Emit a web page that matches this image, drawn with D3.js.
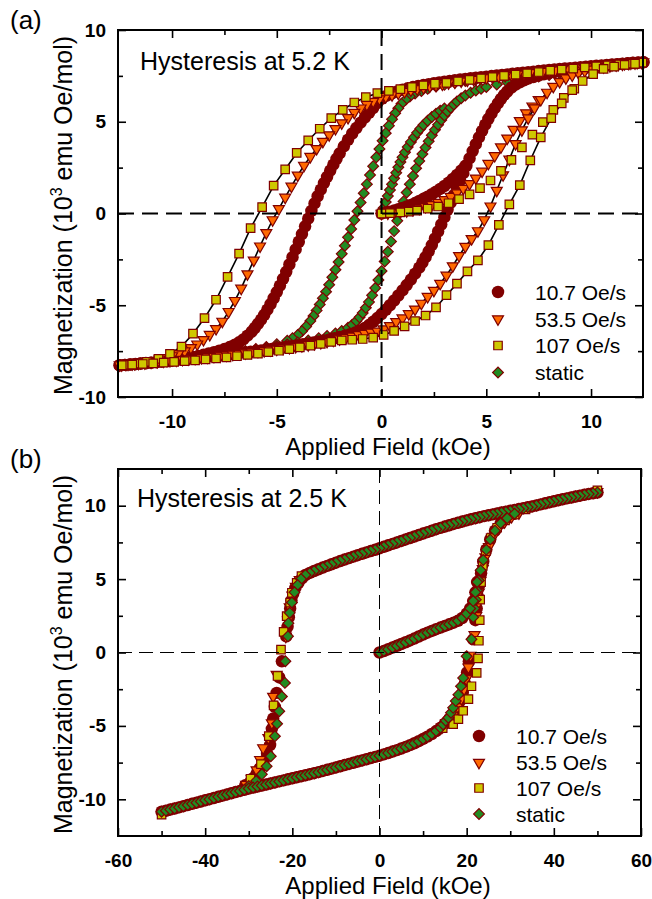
<!DOCTYPE html>
<html><head><meta charset="utf-8">
<script src="https://cdn.jsdelivr.net/npm/d3@7"></script>
<style>
body{margin:0;background:#fff;}
svg{display:block;}
</style></head><body>
<svg id="c" width="652" height="899"></svg>
<script>
// ---------- labels / ticks ----------
const seriesNames = ["10.7 Oe/s", "53.5 Oe/s", "107 Oe/s", "static"];
const titleA = "Hysteresis at 5.2 K";
const titleB = "Hysteresis at 2.5 K";
const xLabel = "Applied Field (kOe)";
const xTicksA = [-10, -5, 0, 5, 10], xMinorA = [-7.5, -2.5, 2.5, 7.5];
const yTicksA = [-10, -5, 0, 5, 10], yMinorA = [-7.5, -2.5, 2.5, 7.5];
const xTicksB = [-60, -40, -20, 0, 20, 40, 60], xMinorB = [-50, -30, -10, 10, 30, 50];
const yTicksB = [-10, -5, 0, 5, 10], yMinorB = [-7.5, -2.5, 2.5, 7.5];

// ---------- panel (a): 5.2 K ----------
const a_circVirgin = [[0,0],[0.2,0.05],[0.4,0.1],[0.6,0.16],[0.8,0.23],[1,0.3],[1.2,0.38],[1.4,0.47],[1.6,0.57],[1.8,0.68],[2,0.8],[2.2,0.92],[2.4,1.05],[2.6,1.19],[2.8,1.34],[3,1.5],[3.2,1.68],[3.4,1.88],[3.6,2.1],[3.8,2.34],[4,2.6]];
const a_circDesc = [[12.5,8.25],[12.25,8.23],[12,8.21],[11.75,8.19],[11.5,8.16],[11.25,8.14],[11,8.12],[10.75,8.1],[10.5,8.07],[10.25,8.05],[10,8.02],[9.75,8],[9.5,7.97],[9.25,7.95],[9,7.92],[8.75,7.9],[8.5,7.87],[8.25,7.85],[8,7.82],[7.75,7.79],[7.5,7.76],[7.25,7.73],[7,7.7],[6.75,7.67],[6.5,7.64],[6.25,7.61],[6,7.58],[5.75,7.55],[5.5,7.52],[5.25,7.49],[5,7.46],[4.75,7.43],[4.5,7.4],[4.25,7.37],[4,7.33],[3.75,7.3],[3.5,7.26],[3.25,7.22],[3,7.18],[2.75,7.14],[2.5,7.1],[2.25,7.05],[2,7],[1.75,6.95],[1.5,6.89],[1.25,6.82],[1,6.74],[0.75,6.65],[0.5,6.55],[0.25,6.42],[0,6.25],[-0.2,6.02],[-0.4,5.75],[-0.6,5.48],[-0.8,5.22],[-1,4.95],[-1.2,4.66],[-1.4,4.36],[-1.6,4.02],[-1.8,3.66],[-2,3.28],[-2.15,2.98],[-2.3,2.66],[-2.45,2.34],[-2.6,2],[-2.75,1.66],[-2.9,1.3],[-3.05,0.94],[-3.2,0.55],[-3.35,0.14],[-3.5,-0.28],[-3.65,-0.7],[-3.8,-1.12],[-3.95,-1.54],[-4.1,-1.96],[-4.25,-2.38],[-4.4,-2.78],[-4.55,-3.18],[-4.7,-3.56],[-4.85,-3.93],[-5,-4.28],[-5.15,-4.62],[-5.3,-4.94],[-5.45,-5.24],[-5.6,-5.52],[-5.75,-5.78],[-5.9,-6.02],[-6.05,-6.24],[-6.2,-6.44],[-6.4,-6.66],[-6.6,-6.86],[-6.8,-7.02],[-7,-7.15],[-7.25,-7.28],[-7.5,-7.39],[-7.75,-7.48],[-8,-7.56],[-8.25,-7.63],[-8.5,-7.7],[-8.75,-7.76],[-9,-7.82],[-9.25,-7.87],[-9.5,-7.92],[-9.75,-7.96],[-10,-8],[-10.25,-8.04],[-10.5,-8.07],[-10.75,-8.1],[-11,-8.13],[-11.25,-8.16],[-11.5,-8.18],[-11.75,-8.21],[-12,-8.23],[-12.25,-8.25],[-12.5,-8.27]];
const a_circAsc = [[-12.5,-8.27],[-12.25,-8.25],[-12,-8.23],[-11.75,-8.2],[-11.5,-8.18],[-11.25,-8.15],[-11,-8.13],[-10.75,-8.1],[-10.5,-8.07],[-10.25,-8.04],[-10,-8.01],[-9.75,-7.98],[-9.5,-7.95],[-9.25,-7.92],[-9,-7.89],[-8.75,-7.86],[-8.5,-7.83],[-8.25,-7.8],[-8,-7.77],[-7.75,-7.74],[-7.5,-7.71],[-7.25,-7.67],[-7,-7.64],[-6.75,-7.6],[-6.5,-7.57],[-6.25,-7.53],[-6,-7.5],[-5.75,-7.46],[-5.5,-7.42],[-5.25,-7.38],[-5,-7.34],[-4.75,-7.3],[-4.5,-7.26],[-4.25,-7.22],[-4,-7.18],[-3.75,-7.13],[-3.5,-7.08],[-3.25,-7.03],[-3,-6.98],[-2.75,-6.92],[-2.5,-6.86],[-2.25,-6.8],[-2,-6.73],[-1.75,-6.66],[-1.5,-6.58],[-1.25,-6.48],[-1,-6.36],[-0.8,-6.24],[-0.6,-6.08],[-0.4,-5.9],[-0.2,-5.7],[0,-5.48],[0.2,-5.25],[0.4,-5],[0.6,-4.74],[0.8,-4.47],[1,-4.19],[1.2,-3.9],[1.4,-3.6],[1.6,-3.28],[1.8,-2.95],[1.95,-2.68],[2.1,-2.38],[2.25,-2.06],[2.4,-1.72],[2.55,-1.36],[2.7,-0.98],[2.85,-0.6],[3,-0.2],[3.15,0.2],[3.3,0.6],[3.45,1],[3.6,1.4],[3.75,1.8],[3.9,2.2],[4.05,2.6],[4.2,3],[4.35,3.4],[4.5,3.78],[4.65,4.15],[4.8,4.5],[4.95,4.84],[5.1,5.16],[5.25,5.46],[5.4,5.74],[5.55,6],[5.7,6.24],[5.85,6.46],[6,6.65],[6.2,6.86],[6.4,7.02],[6.6,7.15],[6.8,7.26],[7,7.35],[7.25,7.44],[7.5,7.52],[7.75,7.59],[8,7.65],[8.25,7.7],[8.5,7.75],[8.75,7.8],[9,7.84],[9.25,7.88],[9.5,7.92],[9.75,7.95],[10,7.98],[10.25,8.01],[10.5,8.04],[10.75,8.07],[11,8.1],[11.25,8.12],[11.5,8.15],[11.75,8.17],[12,8.2],[12.25,8.22],[12.5,8.24]];

const a_triVirgin = [[0,0],[0.3,0.02],[0.6,0.05],[0.9,0.09],[1.2,0.14],[1.5,0.2],[1.8,0.28],[2.1,0.37],[2.4,0.48],[2.7,0.6],[3,0.75],[3.3,0.92],[3.6,1.12],[3.9,1.36],[4.2,1.62],[4.5,1.92],[4.8,2.3],[5.1,2.72],[5.4,3.15],[5.7,3.62],[6,4.1],[6.3,4.58],[6.6,5.05],[6.9,5.48],[7.2,5.85],[7.5,6.2]];
const a_triDesc = [[12.5,8.25],[12.2,8.22],[11.9,8.19],[11.6,8.16],[11.3,8.13],[11,8.1],[10.7,8.07],[10.4,8.04],[10.1,8.01],[9.8,7.98],[9.5,7.95],[9.2,7.92],[8.9,7.89],[8.6,7.85],[8.3,7.82],[8,7.78],[7.7,7.74],[7.4,7.71],[7.1,7.67],[6.8,7.63],[6.5,7.59],[6.2,7.55],[5.9,7.51],[5.6,7.47],[5.3,7.43],[5,7.39],[4.7,7.35],[4.4,7.3],[4.1,7.26],[3.8,7.21],[3.5,7.16],[3.2,7.11],[2.9,7.05],[2.6,6.99],[2.3,6.93],[2,6.86],[1.7,6.79],[1.4,6.72],[1.1,6.64],[0.8,6.55],[0.5,6.46],[0.2,6.36],[-0.1,6.24],[-0.4,6.1],[-0.7,5.93],[-1,5.74],[-1.3,5.5],[-1.6,5.22],[-1.9,4.93],[-2.2,4.62],[-2.5,4.28],[-2.8,3.92],[-3.1,3.53],[-3.4,3.1],[-3.7,2.62],[-4,2.08],[-4.3,1.48],[-4.6,0.88],[-4.9,0.26],[-5.2,-0.35],[-5.5,-1.05],[-5.8,-1.78],[-6.1,-2.55],[-6.4,-3.3],[-6.7,-4.08],[-7,-4.75],[-7.3,-5.35],[-7.6,-5.88],[-7.9,-6.28],[-8.2,-6.6],[-8.5,-6.88],[-8.8,-7.12],[-9.1,-7.32],[-9.4,-7.5],[-9.7,-7.64],[-10,-7.76],[-10.3,-7.86],[-10.6,-7.95],[-10.9,-8.02],[-11.2,-8.08],[-11.5,-8.13],[-11.8,-8.18],[-12.1,-8.22],[-12.4,-8.26]];
const a_triAsc = [[-12.5,-8.26],[-12.2,-8.23],[-11.9,-8.2],[-11.6,-8.17],[-11.3,-8.14],[-11,-8.11],[-10.7,-8.08],[-10.4,-8.05],[-10.1,-8.02],[-9.8,-7.99],[-9.5,-7.96],[-9.2,-7.93],[-8.9,-7.9],[-8.6,-7.86],[-8.3,-7.83],[-8,-7.79],[-7.7,-7.76],[-7.4,-7.72],[-7.1,-7.68],[-6.8,-7.64],[-6.5,-7.6],[-6.2,-7.56],[-5.9,-7.52],[-5.6,-7.48],[-5.3,-7.44],[-5,-7.4],[-4.7,-7.35],[-4.4,-7.31],[-4.1,-7.26],[-3.8,-7.21],[-3.5,-7.16],[-3.2,-7.1],[-2.9,-7.04],[-2.6,-6.98],[-2.3,-6.91],[-2,-6.84],[-1.7,-6.77],[-1.4,-6.69],[-1.1,-6.61],[-0.8,-6.54],[-0.5,-6.48],[-0.2,-6.42],[0.1,-6.3],[0.4,-6.12],[0.7,-5.9],[1,-5.7],[1.3,-5.47],[1.6,-5.22],[1.9,-4.9],[2.2,-4.53],[2.5,-4.2],[2.8,-3.82],[3.1,-3.37],[3.4,-2.86],[3.7,-2.3],[4,-1.8],[4.3,-1.38],[4.6,-0.95],[4.9,-0.35],[5.2,0.4],[5.5,1.25],[5.8,2.1],[6.1,2.95],[6.4,3.8],[6.7,4.55],[7,5.2],[7.3,5.75],[7.6,6.2],[7.9,6.6],[8.2,6.92],[8.5,7.18],[8.8,7.38],[9.1,7.54],[9.4,7.67],[9.7,7.77],[10,7.86],[10.3,7.93],[10.6,7.99],[10.9,8.04],[11.2,8.09],[11.5,8.13],[11.8,8.17],[12.1,8.2],[12.4,8.23]];

const a_sqVirgin = [[0,0],[0.4,0.02],[0.9,0.06],[1.3,0.1],[1.7,0.16],[2.2,0.26],[2.7,0.38],[3.2,0.56],[3.7,0.78],[4.2,1.04],[4.7,1.38],[5.2,1.8],[5.7,2.32],[6.2,2.92],[6.7,3.6],[7.2,4.3],[7.7,4.98],[8.2,5.65],[8.7,6.3],[9.2,6.8]];
const a_sqDesc = [[12.45,8.22],[11.9,8.17],[11.35,8.12],[10.8,8.07],[10.25,8.02],[9.7,7.96],[9.15,7.9],[8.6,7.84],[8.05,7.78],[7.5,7.71],[6.95,7.64],[6.4,7.57],[5.85,7.5],[5.3,7.43],[4.75,7.36],[4.2,7.28],[3.65,7.2],[3.1,7.12],[2.55,7.07],[2,6.98],[1.45,6.88],[0.9,6.78],[0.35,6.68],[-0.2,6.56],[-0.75,6.34],[-1.3,6.05],[-1.85,5.65],[-2.4,5.2],[-2.95,4.62],[-3.5,3.98],[-4.05,3.3],[-4.6,2.4],[-5.15,1.52],[-5.7,0.35],[-6.25,-0.8],[-6.8,-2.19],[-7.35,-3.45],[-7.9,-4.7],[-8.45,-5.7],[-9,-6.55],[-9.55,-7.25],[-10.1,-7.65],[-10.65,-7.92],[-11.2,-8.08],[-11.75,-8.18],[-12.3,-8.25]];
const a_sqAsc = [[-12.4,-8.27],[-11.9,-8.24],[-11.4,-8.2],[-10.9,-8.17],[-10.4,-8.13],[-9.9,-8.09],[-9.4,-8.05],[-8.9,-8],[-8.4,-7.95],[-7.9,-7.9],[-7.4,-7.84],[-6.9,-7.78],[-6.4,-7.71],[-5.9,-7.64],[-5.4,-7.56],[-4.9,-7.48],[-4.4,-7.39],[-3.9,-7.3],[-3.4,-7.2],[-2.9,-7.1],[-2.4,-7],[-1.9,-6.92],[-1.4,-6.88],[-0.9,-6.84],[-0.4,-6.76],[0.1,-6.62],[0.6,-6.4],[1.1,-6.15],[1.6,-5.86],[2.1,-5.56],[2.6,-5.12],[3.1,-4.45],[3.6,-3.82],[4.1,-3.15],[4.6,-2.55],[5.1,-1.72],[5.6,-0.62],[6.1,0.5],[6.6,1.55],[7.1,2.9],[7.6,4.15],[8.1,5.2],[8.6,6],[9.1,6.72],[9.6,7.22],[10.1,7.6],[10.6,7.88],[11.1,8],[11.6,8.1],[12.1,8.16]];

const a_statVirgin = [[0,0],[0.1,0.3],[0.2,0.62],[0.3,0.95],[0.4,1.28],[0.5,1.6],[0.6,1.92],[0.7,2.22],[0.8,2.52],[0.9,2.8],[1,3.06],[1.12,3.34],[1.25,3.62],[1.4,3.9],[1.55,4.16],[1.7,4.4],[1.85,4.62],[2,4.82],[2.2,5.05],[2.4,5.26],[2.6,5.44],[2.8,5.6],[3,5.72]];
const a_statDesc = [[10,7.97],[9.5,7.92],[9,7.87],[8.5,7.82],[8,7.77],[7.5,7.71],[7,7.65],[6.5,7.59],[6,7.52],[5.5,7.45],[5,7.38],[4.5,7.3],[4,7.22],[3.5,7.12],[3,7.02],[2.6,6.92],[2.2,6.8],[1.9,6.68],[1.6,6.54],[1.35,6.38],[1.15,6.2],[0.95,5.98],[0.8,5.74],[0.65,5.46],[0.5,5.14],[0.35,4.78],[0.2,4.38],[0.05,3.96],[-0.1,3.52],[-0.25,3.06],[-0.4,2.58],[-0.55,2.1],[-0.7,1.6],[-0.85,1.1],[-1,0.6],[-1.15,0.12],[-1.3,-0.36],[-1.45,-0.84],[-1.6,-1.3],[-1.75,-1.76],[-1.9,-2.2],[-2.05,-2.64],[-2.2,-3.06],[-2.35,-3.48],[-2.5,-3.88],[-2.65,-4.26],[-2.8,-4.62],[-2.95,-4.96],[-3.1,-5.28],[-3.25,-5.58],[-3.4,-5.86],[-3.6,-6.16],[-3.8,-6.42],[-4,-6.62],[-4.25,-6.8],[-4.5,-6.93],[-5,-7.12],[-5.5,-7.27],[-6,-7.39],[-6.5,-7.5],[-7,-7.6],[-7.5,-7.69],[-8,-7.77],[-8.5,-7.85],[-9,-7.92],[-9.5,-7.98],[-10,-8.04]];
const a_statAsc = [[-10,-7.95],[-9.5,-7.9],[-9,-7.84],[-8.5,-7.78],[-8,-7.72],[-7.5,-7.65],[-7,-7.58],[-6.5,-7.5],[-6,-7.42],[-5.5,-7.33],[-5,-7.24],[-4.5,-7.14],[-4,-7.03],[-3.5,-6.92],[-3,-6.8],[-2.6,-6.68],[-2.2,-6.54],[-1.9,-6.4],[-1.6,-6.22],[-1.4,-6.06],[-1.2,-5.86],[-1.05,-5.66],[-0.9,-5.42],[-0.75,-5.14],[-0.6,-4.82],[-0.45,-4.46],[-0.3,-4.06],[-0.15,-3.62],[0,-3.14],[0.15,-2.62],[0.3,-2.08],[0.45,-1.52],[0.6,-0.96],[0.75,-0.4],[0.9,0.14],[1.05,0.66],[1.2,1.14],[1.35,1.6],[1.5,2.04],[1.65,2.46],[1.8,2.86],[1.95,3.24],[2.1,3.6],[2.25,3.94],[2.4,4.26],[2.55,4.56],[2.7,4.84],[2.85,5.1],[3,5.34],[3.15,5.56],[3.3,5.76],[3.45,5.94],[3.6,6.1],[3.8,6.28],[4,6.43],[4.25,6.58],[4.5,6.7],[4.75,6.8],[5,6.89],[5.5,7.03],[6,7.15],[6.5,7.26],[7,7.36],[7.5,7.46],[8,7.55],[8.5,7.65],[9,7.74],[9.5,7.83],[10,7.91]];

// ---------- panel (b): 2.5 K ----------
const b_upper = [[50,10.9],[49,10.85],[48,10.8],[47,10.74],[46,10.68],[45,10.62],[44,10.56],[43,10.5],[42,10.44],[41,10.37],[40,10.3],[39,10.23],[38,10.16],[37,10.09],[36,10.02],[35,9.95],[34,9.89],[33,9.83],[32,9.77],[31,9.71],[30,9.65],[29,9.59],[28,9.53],[27,9.47],[26,9.41],[25,9.35],[24,9.29],[23,9.22],[22,9.15],[21,9.08],[20,9],[19,8.92],[18,8.84],[17,8.76],[16,8.67],[15,8.58],[14,8.49],[13,8.4],[12,8.3],[11,8.2],[10,8.1],[9,8],[8,7.9],[7,7.8],[6,7.7],[5,7.6],[4,7.5],[3,7.4],[2,7.3],[1,7.2],[0,7.1],[-1,7],[-2,6.91],[-3,6.82],[-4,6.72],[-5,6.63],[-6,6.53],[-7,6.43],[-8,6.33],[-9,6.23],[-10,6.12],[-11,6.01],[-12,5.9],[-13,5.79],[-14,5.67],[-15,5.55],[-16,5.42],[-17,5.28]];
const b_lower = [[-50,-10.85],[-49,-10.78],[-48,-10.7],[-47,-10.63],[-46,-10.55],[-45,-10.47],[-44,-10.39],[-43,-10.31],[-42,-10.23],[-41,-10.15],[-40,-10.07],[-39,-9.99],[-38,-9.91],[-37,-9.83],[-36,-9.75],[-35,-9.67],[-34,-9.59],[-33,-9.51],[-32,-9.43],[-31,-9.35],[-30,-9.27],[-29,-9.2],[-28,-9.13],[-27,-9.06],[-26,-8.99],[-25,-8.92],[-24,-8.85],[-23,-8.78],[-22,-8.71],[-21,-8.64],[-20,-8.57],[-19,-8.5],[-18,-8.43],[-17,-8.36],[-16,-8.29],[-15,-8.22],[-14,-8.15],[-13,-8.07],[-12,-7.99],[-11,-7.91],[-10,-7.83],[-9,-7.75],[-8,-7.67],[-7,-7.59],[-6,-7.51],[-5,-7.43],[-4,-7.35],[-3,-7.27],[-2,-7.19],[-1,-7.11],[0,-7.03],[1,-6.94],[2,-6.85],[3,-6.75],[4,-6.65],[5,-6.54],[6,-6.43],[7,-6.31],[8,-6.18],[9,-6.04],[10,-5.89],[11,-5.73],[12,-5.55],[13,-5.35],[14,-5.13]];
const b_virgin = [[0,0],[1,0.1],[2,0.22],[3,0.34],[4,0.46],[5,0.58],[6,0.7],[7,0.82],[8,0.95],[9,1.09],[10,1.22],[11,1.35],[12,1.47],[13,1.59],[14,1.7],[15,1.81],[16,1.92],[17,2.03],[18,2.16],[19,2.35],[20,2.65],[20.8,3],[21.5,3.5],[22,4.1],[22.4,4.8]];
const b_circDesc = [[-17.8,5.05],[-18.6,4.75],[-19.3,4.4],[-19.8,4],[-20.2,3.55],[-20.5,3],[-20.8,2.4],[-21.1,1.75],[-21.4,1.1],[-22.4,-0.6],[-23,-1.7],[-23.6,-2.75],[-24,-3.7],[-24.4,-4.5],[-24.7,-5.2],[-25.1,-6.3],[-25.8,-6.9],[-26.6,-7.4],[-27.5,-7.9],[-28.2,-8.25],[-28.9,-8.55],[-29.7,-8.85],[-30.8,-9.05]];
const b_circAsc = [[15,-4.85],[16,-4.55],[17,-4.2],[17.8,-3.8],[18.5,-3.3],[19.1,-2.75],[19.6,-2.1],[20.1,-1.35],[20.5,-0.6],[21.5,0.9],[22,2.2],[22.3,3],[22.6,3.8],[22.9,4.6],[23.3,5.4],[23.8,6.2],[24.5,7],[25.4,7.7],[26.5,8.3],[27.8,8.8],[29.3,9.15],[31,9.45]];
const b_triDesc = [[-18.3,4.95],[-19.2,4.5],[-20,3.9],[-20.6,3.1],[-21,2.2],[-21.5,1.1],[-23.6,-1.5],[-24.4,-3],[-24.7,-4.8],[-25.5,-5.8],[-26.7,-6.5],[-27.4,-7.3],[-28.2,-8],[-29.3,-8.6],[-30.6,-9]];
const b_triAsc = [[14.3,-5.1],[15.3,-4.8],[16.3,-4.5],[17.2,-4.15],[18,-3.7],[18.8,-3.15],[19.4,-2.5],[19.9,-1.8],[20.4,-1],[20.9,-0.2],[21.8,1.2],[22.2,2.5],[22.5,3.3],[22.8,4.1],[23.2,4.9],[23.7,5.7],[24.3,6.5],[25.1,7.2],[26.1,7.9],[27.3,8.45],[28.7,8.9],[30.3,9.25],[32,9.5],[50,10.95]];
const b_sqDesc = [[50,11.05],[-17.9,5.2],[-19,4.75],[-20.1,4.07],[-20.5,3.4],[-21.3,2.48],[-22,1.4],[-22.6,0.2],[-23.4,-1.6],[-24.3,-3.6],[-25.4,-5.7],[-27.2,-7.6],[-29.6,-8.6],[-50,-11.05]];
const b_sqAsc = [[14.5,-5.15],[16.9,-4.88],[18.1,-4.54],[19.2,-3.97],[20.4,-3.17],[21.1,-2.3],[22.3,-1.39],[22.6,-0.4],[22.8,0.8],[23,2.2],[23.1,3.6],[23.3,4.8],[23.7,5.9],[24.4,6.9],[25.5,7.8],[27,8.5],[28.8,9],[31,9.4],[33.5,9.75]];
const b_statDesc = [[-18,5],[-18.8,4.6],[-19.5,4.1],[-20.1,3.4],[-20.6,2.7],[-20.9,2],[-21,1.1],[-21.6,-0.6],[-21.7,-2.07],[-22.4,-3],[-23,-4],[-23.5,-4.85],[-24,-5.7],[-24.95,-7.07],[-25.9,-7.75],[-27,-8.3],[-28.3,-8.75],[-30,-9.1]];
const b_statAsc = [[14.6,-4.9],[15.2,-4.65],[15.8,-4.45],[16.4,-4.1],[16.9,-3.77],[17.5,-3.3],[18.1,-2.87],[18.7,-2.3],[19.2,-1.73],[20,-0.25],[21.1,0.9],[21.5,2.4],[21.8,3],[22.1,3.6],[22.4,4.2],[22.8,4.9],[23.2,5.6],[23.8,6.3],[24.5,7],[25.4,7.7],[26.5,8.3],[27.8,8.8],[29.3,9.15],[31,9.45]];

// ---------- drawing ----------
const FONT = '"Liberation Sans", Arial, Helvetica, sans-serif';
const RED = "#800000";
const STY = {
  circle:  {sym: d3.symbolCircle,   size: 122, fill: RED,       stroke: "none", rot: 0},
  tri:     {sym: d3.symbolTriangle, size: 52,  fill: "#ff6a00", stroke: RED,    rot: 180},
  square:  {sym: d3.symbolSquare,   size: 72,  fill: "#cfc800", stroke: RED,    rot: 0},
  diamond: {sym: d3.symbolSquare,   size: 58,  fill: "#228b22", stroke: RED,    rot: 45}
};
const svg = d3.select("#c").style("font-family", FONT);

function marks(g, data, st, x, y) {
  const p = d3.symbol(st.sym, st.size)();
  g.append("g").selectAll("path").data(data).join("path")
    .attr("d", p)
    .attr("transform", d => `translate(${x(d[0])},${y(d[1])}) rotate(${st.rot})`)
    .attr("fill", st.fill).attr("stroke", st.stroke).attr("stroke-width", 1.2);
}

function panel(o) {
  const x = d3.scaleLinear().domain(o.xd).range([o.L, o.R]);
  const y = d3.scaleLinear().domain(o.yd).range([o.B, o.T]);
  const g = svg.append("g");

  // fit lines
  const line = d3.line().x(d => x(d[0])).y(d => y(d[1]));
  (o.lines || []).forEach(ln => g.append("path").attr("d", line(ln))
      .attr("fill", "none").attr("stroke", "#000").attr("stroke-width", 1.6));

  // markers
  o.series.forEach(s => s.data.forEach(arr => marks(g, arr, STY[s.type], x, y)));

  // zero lines
  g.append("line").attr("x1", x(0)).attr("x2", x(0)).attr("y1", o.T).attr("y2", o.B)
    .attr("stroke", "#000").attr("stroke-width", o.zw).attr("stroke-dasharray", o.dash);
  g.append("line").attr("x1", o.L).attr("x2", o.R).attr("y1", y(0)).attr("y2", y(0))
    .attr("stroke", "#000").attr("stroke-width", o.zw).attr("stroke-dasharray", o.dash);

  // axes
  const fmt = d => String(d);
  const style = sel => {
    sel.select(".domain").remove();
    sel.selectAll("line").attr("stroke", "#000").attr("stroke-width", 1.6);
    sel.attr("font-family", FONT).attr("font-size", 19).attr("font-weight", "bold");
  };
  const add = (ax, tr) => g.append("g").attr("transform", tr).call(ax).call(style);
  add(d3.axisBottom(x).tickValues(o.xt).tickSizeInner(-8).tickSizeOuter(0).tickPadding(18).tickFormat(fmt), `translate(0,${o.B})`);
  add(d3.axisBottom(x).tickValues(o.xm).tickSizeInner(-5).tickSizeOuter(0).tickFormat(""), `translate(0,${o.B})`);
  add(d3.axisTop(x).tickValues(o.xt).tickSizeInner(-8).tickSizeOuter(0).tickFormat(""), `translate(0,${o.T})`);
  add(d3.axisTop(x).tickValues(o.xm).tickSizeInner(-5).tickSizeOuter(0).tickFormat(""), `translate(0,${o.T})`);
  add(d3.axisLeft(y).tickValues(o.yt).tickSizeInner(-8).tickSizeOuter(0).tickPadding(12).tickFormat(fmt), `translate(${o.L},0)`);
  add(d3.axisLeft(y).tickValues(o.ym).tickSizeInner(-5).tickSizeOuter(0).tickFormat(""), `translate(${o.L},0)`);
  add(d3.axisRight(y).tickValues(o.yt).tickSizeInner(-8).tickSizeOuter(0).tickFormat(""), `translate(${o.R},0)`);
  add(d3.axisRight(y).tickValues(o.ym).tickSizeInner(-5).tickSizeOuter(0).tickFormat(""), `translate(${o.R},0)`);

  // frame
  g.append("rect").attr("x", o.L).attr("y", o.T).attr("width", o.R - o.L).attr("height", o.B - o.T)
    .attr("fill", "none").attr("stroke", "#000").attr("stroke-width", 2);

  // legend
  const legTypes = ["circle", "tri", "square", "diamond"];
  seriesNames.forEach((nm, i) => {
    const ly = o.legY[i];
    marks(g, [[0, 0]], STY[legTypes[i]], () => o.legX, () => ly);
    g.append("text").attr("x", o.legX + 37).attr("y", ly + 7.5).attr("font-size", 21).text(nm);
  });

  // texts
  g.append("text").attr("x", o.titleX).attr("y", o.titleY).attr("font-size", 25).text(o.title);
  g.append("text").attr("x", 10).attr("y", o.letterY).attr("font-size", 26).text(o.letter);
  g.append("text").attr("x", 388).attr("y", o.xlabY).attr("font-size", 24).attr("text-anchor", "middle").text(xLabel);
  const yl = g.append("text").attr("transform", `translate(72,${(o.T + o.B) / 2 + 2}) rotate(-90)`)
    .attr("font-size", 25).attr("text-anchor", "middle");
  yl.append("tspan").text("Magnetization (10");
  yl.append("tspan").attr("dy", -10).attr("font-size", 16).text("3");
  yl.append("tspan").attr("dy", 10).text(" emu Oe/mol)");
}

panel({
  xd: [-12.58, 12.48], yd: [-10, 10], L: 118, R: 643, T: 30, B: 397,
  xt: xTicksA, xm: xMinorA, yt: yTicksA, ym: yMinorA,
  zw: 2, dash: "16,8",
  lines: [a_triDesc, a_triAsc, a_sqDesc, a_sqAsc],
  series: [
    {type: "diamond", data: [a_statVirgin, a_statDesc, a_statAsc]},
    {type: "circle", data: [a_circVirgin, a_circDesc, a_circAsc]},
    {type: "tri", data: [a_triVirgin, a_triDesc, a_triAsc]},
    {type: "square", data: [a_sqVirgin, a_sqDesc, a_sqAsc]}
  ],
  legX: 498, legY: [292, 319, 345.5, 372.5],
  title: titleA, titleX: 140, titleY: 70, letter: "(a)", letterY: 29, xlabY: 455
});

panel({
  xd: [-60, 60], yd: [-12.5, 12.5], L: 118, R: 641, T: 469, B: 836,
  xt: xTicksB, xm: xMinorB, yt: yTicksB, ym: yMinorB,
  zw: 1, dash: "14,7",
  lines: [],
  series: [
    {type: "circle", data: [b_upper, b_circDesc, b_lower, b_circAsc, b_virgin]},
    {type: "tri", data: [b_triDesc, b_triAsc]},
    {type: "square", data: [b_sqDesc, b_sqAsc]},
    {type: "diamond", data: [b_upper, b_statDesc, b_lower, b_statAsc, b_virgin]}
  ],
  legX: 479, legY: [736, 762.5, 788, 814],
  title: titleB, titleX: 137, titleY: 507, letter: "(b)", letterY: 468, xlabY: 894
});
</script></body></html>
